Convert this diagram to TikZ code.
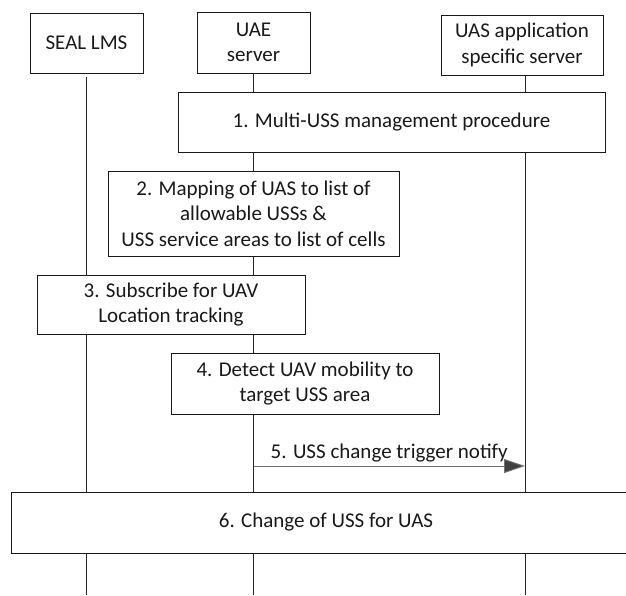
\documentclass[tikz,border=0pt]{standalone}
\usepackage{fontspec}
\setmainfont{Carlito}
\usetikzlibrary{arrows.meta}
\tikzset{
  txt/.style={font=\fontsize{21}{25.5}\selectfont, align=center, text=black!90},
  box/.style={txt, draw=black!90, line width=0.9pt, fill=white, inner sep=0pt},
  life/.style={draw=black!85, line width=0.9pt},
  msg/.style={draw=black!55, line width=0.9pt, -{Triangle[length=21pt,width=14pt,fill=black!75]}},
}
\begin{document}
\begin{tikzpicture}[x=1pt,y=-1pt]
\path[use as bounding box, clip] (0,0) rectangle (626,595);
\fill[white] (0,0) rectangle (626,595);
% participants
\node[box, minimum width=113, minimum height=60] (seal) at (86.5,43) {SEAL LMS};
\node[box, minimum width=113, minimum height=61] (uae) at (253.5,42.5) {UAE\\server};
\node[box, minimum width=162, minimum height=60] (uas) at (522,45) {UAS application\\specific server};
% lifeline ends
\coordinate (sealtop) at (86.5,77);
\coordinate (sealend) at (86.5,595);
\coordinate (uaeend) at (253.5,595);
\coordinate (uastop) at (525,75);
\coordinate (uasend) at (525,595);
\draw[life] (sealtop) -- (sealend);
\draw[life] (uae.south) -- (uaeend);
\draw[life] (uastop) -- (uasend);
% steps
\node[box, minimum width=427, minimum height=60] (s1) at (391.5,122) {1. Multi-USS management procedure};
\node[box, minimum width=291, minimum height=85] (s2) at (253.5,213.5) {2. Mapping of UAS to list of\\allowable USSs \&\\USS service areas to list of cells};
\node[box, minimum width=268, minimum height=59] (s3) at (171,304.5) {3. Subscribe for UAV\\Location tracking};
\node[box, minimum width=268, minimum height=61] (s4) at (305,383.5) {4. Detect UAV mobility to\\target USS area};
\coordinate (m5s) at (253.5,466);
\coordinate (m5e) at (525,466);
\draw[msg] (m5s) -- node[txt, midway, anchor=base, yshift=8pt, inner sep=0pt] (l5) {5. USS change trigger notify} (m5e);
\node[box, minimum width=630, minimum height=61] (s6) at (326,522.5) {6. Change of USS for UAS};
\end{tikzpicture}
\end{document}
